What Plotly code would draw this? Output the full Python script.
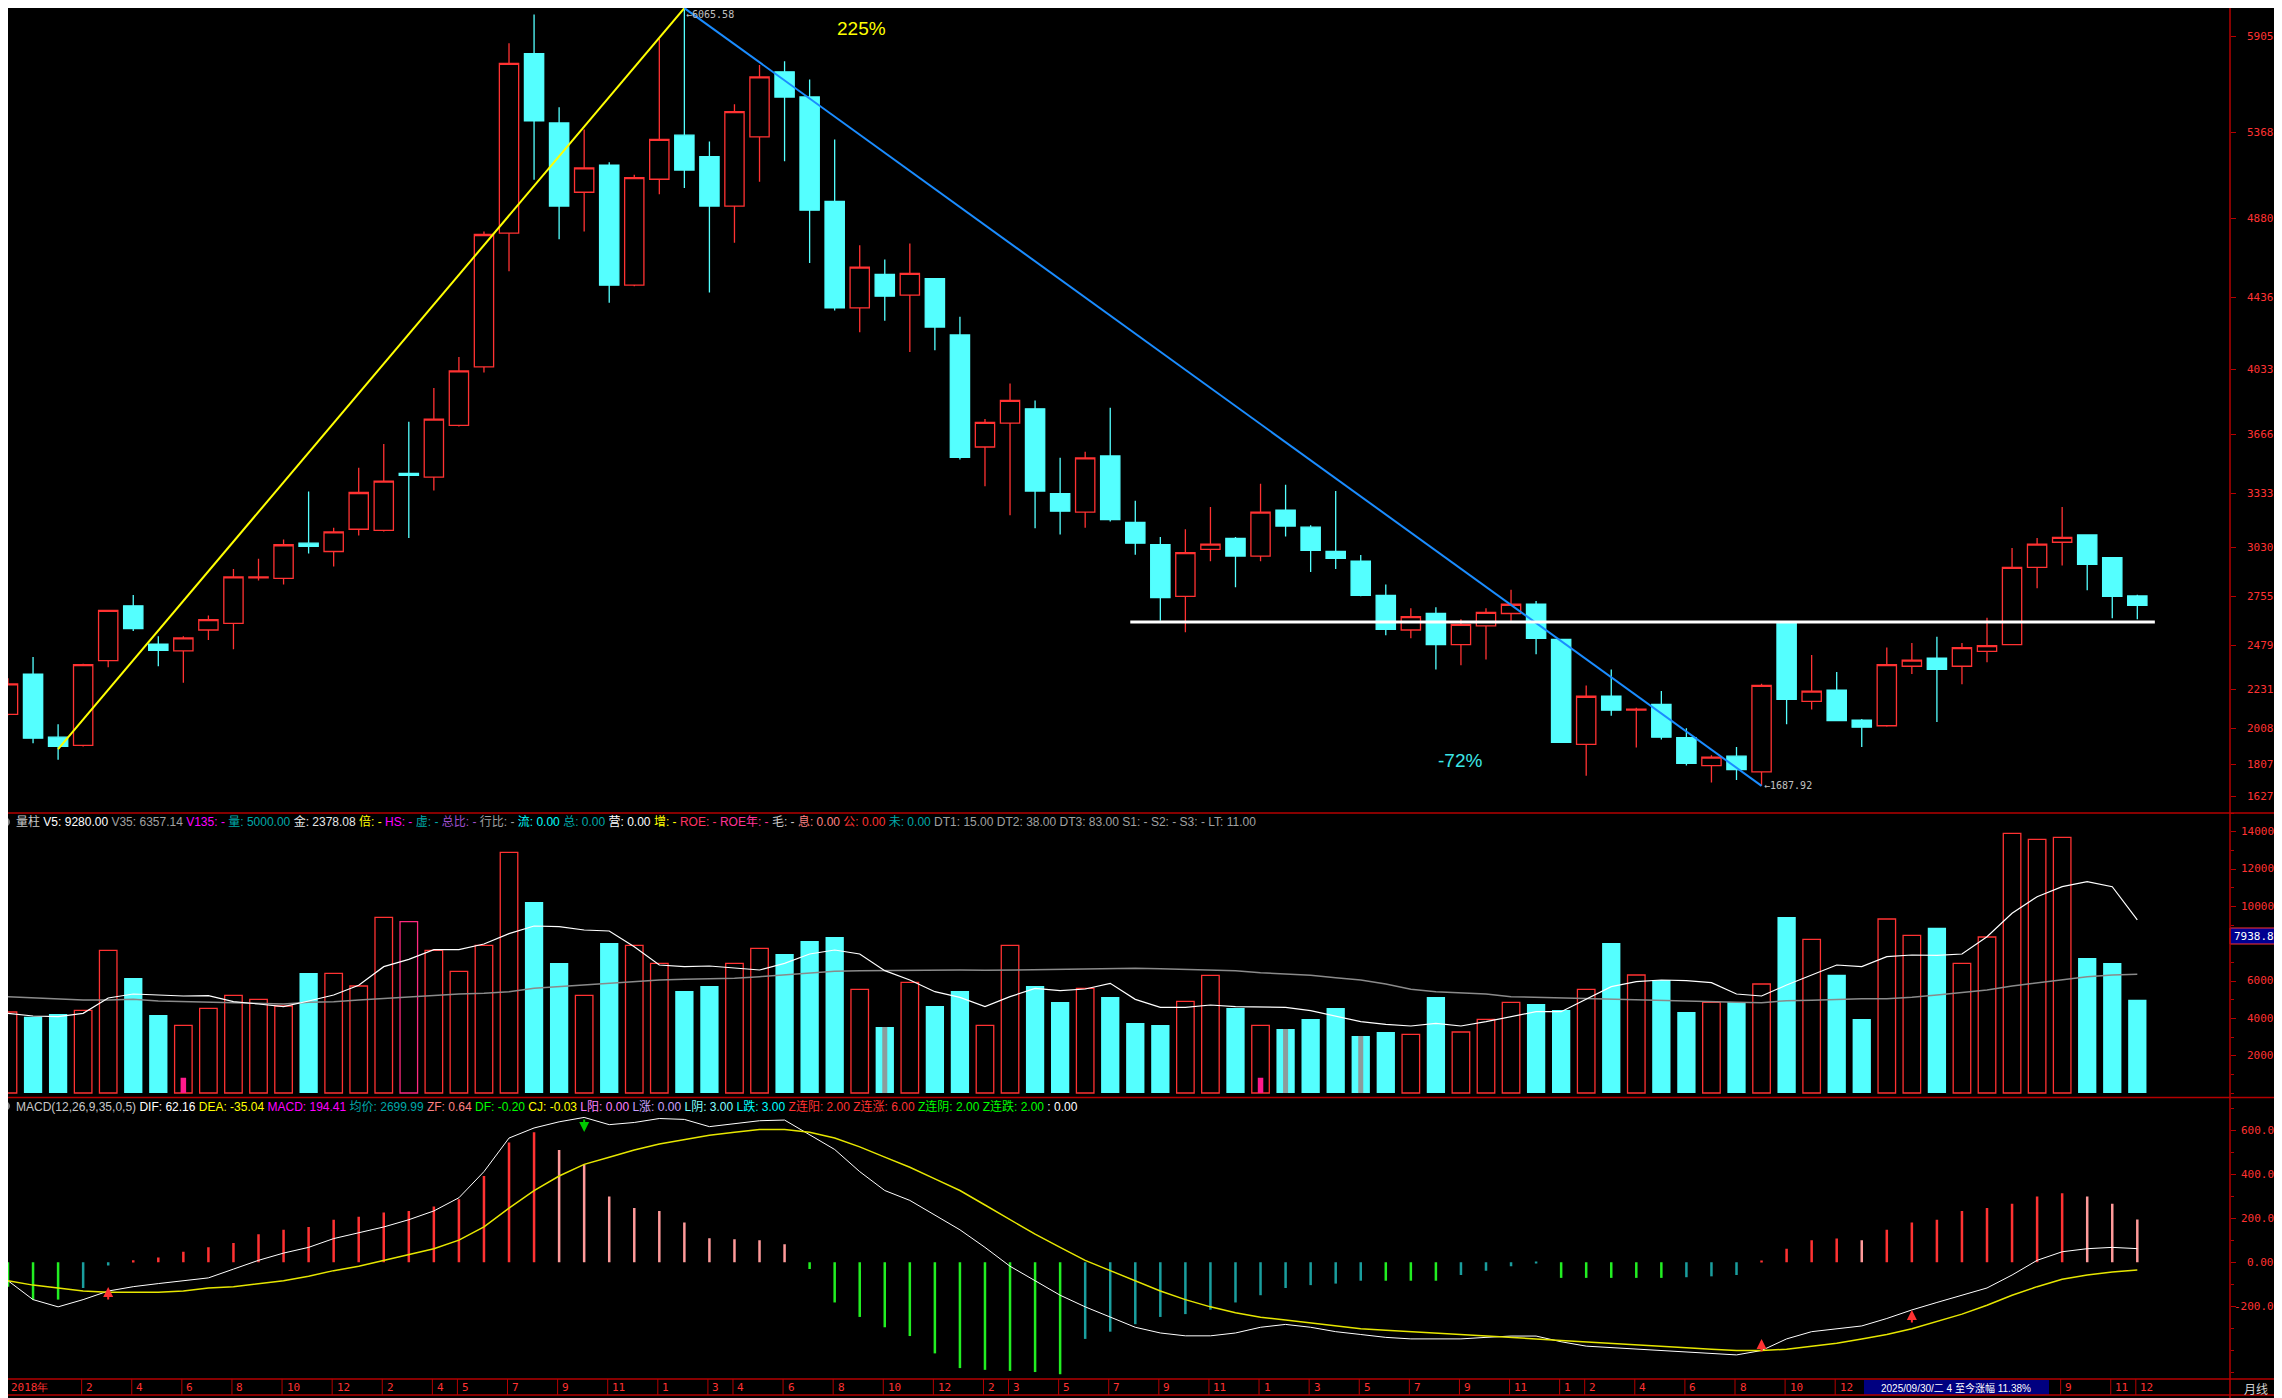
import plotly.graph_objects as go

W, H = 2282, 1398
OFF = 8                     # the page puts the figure 8 px in from the top-left corner
FW, FH = W - OFF, H - OFF

# ---- monthly bars, Nov 2018 .. Dec 2025 (bar index 0..85) ----
opens = [2090, 2317, 1962, 1916, 2393, 2701, 2486, 2448, 2565, 2602,
         2858, 2856, 3054, 3007, 3132, 3126, 3446, 3426, 3717, 4046,
         4799, 5809, 5419, 5029, 5181, 4506, 5102, 5350, 5230, 4951,
         5341, 5707, 5565, 4977, 4378, 4567, 4450, 4543, 4226, 3595,
         3729, 3810, 3333, 3228, 3545, 3170, 3045, 2754, 3019, 3080,
         2981, 3240, 3144, 3007, 2952, 2760, 2565, 2658, 2483, 2588,
         2658, 2710, 2512, 1921, 2192, 2114, 2146, 1959, 1802, 1855,
         1767, 2602, 2163, 2227, 2058, 2026, 2361, 2407, 2361, 2445,
         2483, 2917, 3059, 3100, 2972, 2757]
highs = [2294, 2413, 2035, 2375, 2678, 2762, 2530, 2530, 2646, 2908,
         2966, 3074, 3345, 3141, 3478, 3612, 3737, 3927, 4101, 4808,
         5867, 6030, 5507, 5382, 5198, 5128, 5891, 6065.58, 5315, 5524,
         5745, 5766, 5664, 5326, 4730, 4651, 4741, 4545, 4328, 3752,
         3953, 3857, 3534, 3569, 3816, 3292, 3088, 3132, 3257, 3088,
         3388, 3382, 3155, 3347, 2987, 2821, 2687, 2693, 2626, 2687,
         2792, 2728, 2515, 2253, 2343, 2128, 2221, 2012, 1860, 1907,
         2262, 2605, 2425, 2329, 2064, 2466, 2492, 2527, 2492, 2634,
         3027, 3083, 3257, 3103, 2975, 2763]
lows = [2085, 1927, 1835, 1910, 2355, 2559, 2361, 2268, 2509, 2457,
        2844, 2821, 2995, 2923, 3097, 3120, 3083, 3350, 3710, 4014,
        4584, 5099, 4765, 4808, 4407, 4500, 5018, 5053, 4465, 4744,
        5088, 5204, 4631, 4363, 4241, 4305, 4130, 4139, 3525, 3374,
        3211, 3138, 3103, 3141, 3176, 2989, 2617, 2553, 2952, 2806,
        2952, 3091, 2891, 2908, 2755, 2536, 2518, 2343, 2367, 2399,
        2617, 2428, 1930, 1744, 2082, 1904, 1948, 1802, 1706, 1721,
        1687.92, 2035, 2117, 2052, 1907, 2020, 2317, 2047, 2259, 2384,
        2480, 2800, 2928, 2789, 2631, 2626]
closes = [2262, 1956, 1910, 2370, 2675, 2573, 2451, 2521, 2623, 2864,
          2864, 3045, 3036, 3117, 3339, 3403, 3435, 3752, 4023, 4791,
          5754, 5431, 4951, 5166, 4506, 5111, 5326, 5154, 4951, 5483,
          5678, 5565, 4928, 4378, 4607, 4444, 4572, 4270, 3537, 3734,
          3857, 3347, 3234, 3534, 3187, 3054, 2748, 3001, 3048, 2981,
          3228, 3150, 3013, 2969, 2760, 2568, 2640, 2483, 2597, 2664,
          2710, 2518, 1933, 2192, 2114, 2119, 1962, 1814, 1849, 1779,
          2253, 2175, 2221, 2055, 2018, 2370, 2396, 2343, 2466, 2477,
          2917, 3048, 3086, 2934, 2754, 2704]

volume = [4339, 4089, 4232, 4428, 7643, 6161, 4178, 3625, 4536, 5232,
          5018, 4661, 6428, 6411, 5732, 9410, 9178, 7643, 6518, 7910,
          12892, 10232, 6964, 5232, 8035, 7910, 6946, 5464, 5732, 6946,
          7750, 7446, 8143, 8357, 5553, 3535, 5928, 4661, 5464, 3625,
          7910, 5732, 4875, 5607, 5143, 3750, 3643, 4910, 6303, 4553,
          3625, 3428, 3964, 4553, 3053, 3268, 3143, 5143, 3268, 3946,
          4857, 4768, 4446, 5553, 8035, 6321, 6053, 4339, 4857, 4875,
          5839, 9428, 8232, 6339, 3964, 9321, 8446, 8857, 6946, 8357,
          13910, 13589, 13696, 7232, 6964, 5000]
vol_ma5 = [4268, 4125, 4089, 4268, 5089, 5303, 5250, 5196, 5214, 4893,
           4768, 4625, 4928, 5250, 5768, 6768, 7160, 7678, 7678, 7982,
           8535, 8946, 8910, 8732, 8678, 7839, 6857, 6768, 6803, 6678,
           6589, 6946, 7446, 7660, 7446, 6553, 6053, 5428, 5125, 4625,
           5160, 5607, 5482, 5571, 5875, 5018, 4589, 4589, 4714, 4625,
           4589, 4589, 4410, 4125, 3821, 3678, 3589, 3732, 3589, 3821,
           4089, 4357, 4357, 5018, 5696, 5964, 6053, 6018, 5910, 5303,
           5196, 5785, 6321, 6857, 6768, 7303, 7393, 7375, 7446, 8375,
           9625, 10517, 11053, 11321, 11053, 9280]
vol_ma35 = [5160, 5089, 5035, 4982, 4982, 5018, 4928, 4893, 4857, 4839,
            4803, 4768, 4857, 4893, 4982, 5071, 5160, 5250, 5303, 5339,
            5428, 5607, 5696, 5785, 5875, 5964, 6053, 6089, 6107, 6142,
            6232, 6321, 6410, 6517, 6553, 6571, 6589, 6607, 6589, 6571,
            6589, 6625, 6642, 6678, 6678, 6678, 6660, 6625, 6607, 6553,
            6446, 6375, 6303, 6178, 6053, 5839, 5553, 5428, 5375, 5303,
            5160, 5125, 5071, 5053, 5035, 4982, 4946, 4910, 4875, 4857,
            4839, 4946, 4964, 5018, 5053, 5053, 5125, 5250, 5375, 5518,
            5732, 5910, 6089, 6232, 6321, 6357]
pink_marks = [7, 50]          # small magenta sticks inside volume bars
gray_marks = [35, 51, 54]     # grey stripes inside volume bars
flat_vol = [16]

dif = [-84, -170, -203, -170, -131, -111, -97, -84, -71, -31,
       9, 42, 68, 108, 135, 161, 194, 234, 294, 413,
       566, 612, 640, 660, 627, 637, 655, 651, 618, 632,
       645, 648, 580, 514, 413, 327, 282, 214, 148, 68,
       -18, -84, -150, -203, -249, -296, -322, -335, -335, -322,
       -296, -283, -296, -316, -329, -342, -349, -349, -349, -342,
       -336, -336, -362, -382, -389, -396, -402, -409, -415, -422,
       -402, -349, -316, -303, -290, -256, -217, -183, -150, -117,
       -58, 9, 48, 62, 68, 62.16]
dea = [-84, -104, -117, -131, -137, -137, -137, -131, -117, -111,
       -97, -84, -64, -38, -18, 9, 35, 62, 101, 161,
       247, 327, 393, 446, 479, 512, 539, 559, 579, 592,
       605, 605, 592, 566, 526, 479, 433, 380, 327, 261,
       194, 128, 68, 9, -38, -84, -131, -170, -203, -230,
       -250, -263, -276, -290, -303, -310, -316, -322, -329, -336,
       -342, -349, -356, -362, -369, -375, -382, -389, -396, -402,
       -402, -396, -382, -369, -349, -329, -303, -270, -236, -196,
       -150, -111, -77, -58, -44, -35.04]
macd = [-111, -170, -170, -117, -15, 9, 22, 48, 68, 88,
        128, 148, 161, 194, 207, 227, 234, 254, 287, 393,
        546, 592, 512, 446, 300, 247, 234, 181, 110, 105,
        100, 82, -31, -183, -249, -296, -336, -415, -482, -490,
        -495, -500, -510, -349, -316, -282, -249, -236, -216, -183,
        -150, -117, -104, -97, -84, -84, -84, -84, -58, -38,
        -18, -5, -71, -71, -71, -71, -71, -68, -64, -58,
        5, 62, 101, 108, 101, 148, 181, 194, 234, 247,
        267, 300, 314, 300, 267, 194.41]
buy_marks = [(4, -113), (70, -349), (76, -217)]
sell_marks = [(23, 594)]

price_ticks = [5905, 5368, 4880, 4436, 4033, 3666, 3333, 3030, 2755, 2479, 2231, 2008, 1807, 1627]
vol_ticks = [14000, 12000, 10000, 6000, 4000, 2000]
macd_ticks = [600, 400, 200, 0, -200]
macd_tick_text = ["600.0", "400.0", "200.0", "0.00", "-200.0"]

label_pos = [0, 3, 5, 7, 9, 11, 13, 15, 17, 18, 20, 22, 24, 26, 28, 29, 31, 33, 35, 37, 39,
             40, 42, 44, 46, 48, 50, 52, 54, 56, 58, 60, 62, 63, 65, 67, 69, 71, 73, 82, 84, 85]
label_txt = ["2018年", "2", "4", "6", "8", "10", "12", "2", "4", "5", "7", "9", "11", "1", "3", "4",
             "6", "8", "10", "12", "2", "3", "5", "7", "9", "11", "1", "3", "5", "7", "9", "11",
             "1", "2", "4", "6", "8", "10", "12", "9", "11", "12"]

peak_bar, peak_val = 27, 6065.58
low_bar, low_val = 70, 1687.92
rise_start = (2, 1895)
support_level = 2610

RED = "#ff3232"
CYAN = "#54ffff"
FRAME = "#b40000"
x = list(range(len(opens)))


def px(X):
    return (X - OFF) / FW


def py(Y):
    return 1 - (Y - OFF) / FH


fig = go.Figure()

fig.add_trace(go.Candlestick(
    x=x, open=opens, high=highs, low=lows, close=closes, yaxis="y",
    increasing=dict(line=dict(color=RED, width=1.3), fillcolor="#000000"),
    decreasing=dict(line=dict(color=CYAN, width=1.3), fillcolor=CYAN),
    whiskerwidth=0, hoverinfo="skip"))

# trend lines
fig.add_trace(go.Scatter(x=[rise_start[0], peak_bar], y=[rise_start[1], peak_val], mode="lines",
                         line=dict(color="#ffff00", width=2), yaxis="y", cliponaxis=False))
fig.add_trace(go.Scatter(x=[peak_bar, low_bar], y=[peak_val, low_val], mode="lines",
                         line=dict(color="#1a8cff", width=2), yaxis="y", cliponaxis=False))
fig.add_trace(go.Scatter(x=[44.8, 85.7], y=[support_level, support_level], mode="lines",
                         line=dict(color="#ffffff", width=3), yaxis="y"))

# volume
up = [c >= o for o, c in zip(opens, closes)]
for i in flat_vol:
    up[i] = True
vx_up = [i for i in x if up[i]]
vx_dn = [i for i in x if not up[i]]
fig.add_trace(go.Bar(x=vx_dn, y=[volume[i] for i in vx_dn], width=0.73, yaxis="y2",
                     marker=dict(color=CYAN, line=dict(width=0))))
fig.add_trace(go.Bar(x=vx_up, y=[volume[i] for i in vx_up], width=0.7, yaxis="y2",
                     marker=dict(color="#000000",
                                 line=dict(color=["#ff2a7f" if i in flat_vol else RED for i in vx_up], width=1.3))))
fig.add_trace(go.Bar(x=gray_marks, y=[volume[i] for i in gray_marks], width=0.2, yaxis="y2",
                     marker=dict(color="#8c9c9c", line=dict(width=0))))
fig.add_trace(go.Bar(x=pink_marks, y=[821 for i in pink_marks], width=0.22, yaxis="y2",
                     marker=dict(color="#ff1a8c", line=dict(width=0))))
fig.add_trace(go.Scatter(x=x, y=vol_ma35, mode="lines", line=dict(color="#8a8a8a", width=1.5), yaxis="y2"))
fig.add_trace(go.Scatter(x=x, y=vol_ma5, mode="lines", line=dict(color="#ffffff", width=1.2), yaxis="y2"))

# macd
hist_colors = []
for i, v in enumerate(macd):
    p = macd[i - 1] if i else v
    if v >= 0:
        hist_colors.append(RED if v >= p else "#ff9a9a")
    else:
        hist_colors.append("#22ee22" if v <= p else "#1a9e9e")
fig.add_trace(go.Bar(x=x, y=macd, width=0.1, yaxis="y3", marker=dict(color=hist_colors, line=dict(width=0))))
fig.add_trace(go.Scatter(x=x, y=dif, mode="lines", line=dict(color="#ffffff", width=1), yaxis="y3"))
fig.add_trace(go.Scatter(x=x, y=dea, mode="lines", line=dict(color="#e6e600", width=1.5), yaxis="y3"))

annotations = []
shapes = []


def note(X, Y, text, font, xanchor="center", **kw):
    annotations.append(dict(x=px(X), y=py(Y), xref="paper", yref="paper", text=text, showarrow=False,
                            xanchor=xanchor, yanchor="middle", font=font, **kw))


# right scale labels
mono = "DejaVu Sans Mono"
tfont = dict(family=mono, size=11, color=RED)
for ref, vals, texts in (("y", price_ticks, [str(v) for v in price_ticks]),
                         ("y2", vol_ticks, [str(v) for v in vol_ticks]),
                         ("y3", macd_ticks, macd_tick_text)):
    for v, t in zip(vals, texts):
        annotations.append(dict(x=px(2276), xref="paper", y=v, yref=ref, text=t, showarrow=False,
                                xanchor="right", yanchor="middle", font=tfont))

# chart texts
note(861, 28, "225%", dict(family="Liberation Sans", size=19, color="#ffff00"))
note(1460, 760, "-72%", dict(family="Liberation Sans", size=19, color="#3ce6e6"))
annotations.append(dict(x=peak_bar, y=peak_val, xref="x", yref="y", text="←" + str(peak_val), showarrow=False,
                        xanchor="left", yanchor="middle", yshift=-6, font=dict(family=mono, size=10, color="#c0c0c0")))
annotations.append(dict(x=low_bar, y=low_val, xref="x", yref="y", text="←" + str(low_val), showarrow=False,
                        xanchor="left", yanchor="middle", font=dict(family=mono, size=10, color="#c0c0c0")))


def seg(t, c):
    return '<span style="color:%s">%s</span>' % (c, t)


vol_items = [("量柱", "#c8c8c8"), ("V5: 9280.00", "#ffffff"), ("V35: 6357.14", "#a0a0a0"),
             ("V135: -", "#ff00ff"), ("量: 5000.00", "#00a8a8"), ("金: 2378.08", "#e6e6e6"),
             ("倍: -", "#ffff00"), ("HS: -", "#ff00ff"), ("虚: -", "#00a8a8"), ("总比: -", "#a050d0"),
             ("行比: -", "#a0a0a0"), ("流: 0.00", "#00ffff"), ("总: 0.00", "#00a8a8"), ("营: 0.00", "#ffffff"),
             ("增: -", "#ffff00"), ("ROE: -", "#ff3264"), ("ROE年: -", "#ff3296"), ("毛: -", "#c8c8c8"),
             ("息: 0.00", "#ff8080"), ("公: 0.00", "#ff3232"), ("未: 0.00", "#00a8a8"),
             ("DT1: 15.00", "#a0a0a0"), ("DT2: 38.00", "#a0a0a0"), ("DT3: 83.00", "#a0a0a0"),
             ("S1: -", "#a0a0a0"), ("S2: -", "#a0a0a0"), ("S3: -", "#a0a0a0"), ("LT: 11.00", "#a0a0a0")]
macd_items = [("MACD(12,26,9,35,0,5)", "#c8c8c8"), ("DIF: 62.16", "#ffffff"), ("DEA: -35.04", "#ffff00"),
              ("MACD: 194.41", "#ff00ff"), ("均价: 2699.99", "#00a8a8"), ("ZF: 0.64", "#ff8080"),
              ("DF: -0.20", "#00ff00"), ("CJ: -0.03", "#ffff00"), ("L阳: 0.00", "#ff80ff"),
              ("L涨: 0.00", "#c8a0ff"), ("L阴: 3.00", "#80ffff"), ("L跌: 3.00", "#00ffff"),
              ("Z连阳: 2.00", "#ff3232"), ("Z连涨: 6.00", "#ff3232"), ("Z连阴: 2.00", "#00ff00"),
              ("Z连跌: 2.00", "#00ff00"), (": 0.00", "#ffffff")]
hfont = dict(family="Liberation Sans, Noto Sans CJK SC", size=12)
note(14, 822, " ".join(seg(t, c) for t, c in vol_items), hfont, xanchor="left")
note(14, 1106, " ".join(seg(t, c) for t, c in macd_items), hfont, xanchor="left")
for yy in (822, 1106):
    shapes.append(dict(type="circle", xref="paper", yref="paper", x0=px(1), x1=px(10),
                       y0=py(yy + 4.5), y1=py(yy - 4.5), fillcolor="#808080", line=dict(width=0)))

# bottom time strip
for p, t in zip(label_pos, label_txt):
    annotations.append(dict(x=p, xref="x", y=py(1387.5), yref="paper", text=t, showarrow=False,
                            xanchor="left", yanchor="middle", xshift=1, font=dict(family=mono, size=11, color=RED)))
    shapes.append(dict(type="line", xref="x", yref="paper", x0=p - 0.06, x1=p - 0.06,
                       y0=py(1379), y1=py(1395), line=dict(color=FRAME, width=1)))
shapes.append(dict(type="rect", xref="paper", yref="paper", x0=px(1864), x1=px(2049), y0=py(1395), y1=py(1380),
                   fillcolor="#000080", line=dict(width=0)))
note(1956, 1387.5, "2025/09/30/二 4 至今涨幅 11.38%",
     dict(family="Liberation Sans, Noto Sans CJK SC", size=10, color="#ffffff"))
note(2256, 1388, "月线", dict(family="Noto Sans CJK SC", size=12, color="#d0d0d0"))

# current volume box
shapes.append(dict(type="rect", xref="paper", yref="paper", x0=px(2230), x1=1, y0=py(944), y1=py(928),
                   fillcolor="#000090", line=dict(color=RED, width=1)))
note(2232, 936, "7938.8", dict(family=mono, size=11, color="#ffffff"), xanchor="left")

# signal arrows in macd pane
for b, v in sell_marks:
    annotations.append(dict(x=b, y=v, xref="x", yref="y3", text="", showarrow=True, ax=0, ay=-14,
                            arrowhead=2, arrowsize=1, arrowwidth=2, arrowcolor="#00c800"))
for b, v in buy_marks:
    annotations.append(dict(x=b, y=v, xref="x", yref="y3", text="", showarrow=True, ax=0, ay=14,
                            arrowhead=2, arrowsize=1, arrowwidth=2, arrowcolor=RED))

# frame lines
for yy in (813, 1097.5, 1379, 1395):
    shapes.append(dict(type="line", xref="paper", yref="paper", x0=0, x1=1, y0=py(yy), y1=py(yy),
                       line=dict(color=FRAME, width=1.5)))
shapes.append(dict(type="line", xref="paper", yref="paper", x0=px(2230), x1=px(2230), y0=0, y1=1,
                   line=dict(color=FRAME, width=1.5)))
shapes.append(dict(type="line", xref="paper", yref="paper", x0=px(2281), x1=px(2281), y0=0, y1=py(1097.5),
                   line=dict(color=FRAME, width=1.5)))

axis_common = dict(showgrid=False, zeroline=False, showline=False, side="right", anchor="x",
                   ticks="outside", ticklen=5, tickcolor=FRAME, showticklabels=False, fixedrange=True)

fig.update_layout(
    width=FW, height=FH, margin=dict(l=0, r=0, t=0, b=0),
    paper_bgcolor="#000000", plot_bgcolor="#000000", showlegend=False,
    barmode="overlay", boxgap=0.23, boxgroupgap=0, hovermode=False,
    xaxis=dict(domain=[0, px(2230)], range=[0, 88.70], visible=False, rangeslider=dict(visible=False),
               fixedrange=True),
    yaxis=dict(domain=[py(813), 1], range=[1535, 6066], tickvals=price_ticks, **axis_common),
    yaxis2=dict(domain=[py(1097.5), py(813)], range=[-241, 15000], tickvals=vol_ticks + [8000],
                minor=dict(ticks="outside", ticklen=3, tickcolor=FRAME, tickmode="linear", tick0=0, dtick=1000),
                **axis_common),
    yaxis3=dict(domain=[py(1379), py(1097.5)], range=[-531.7, 750.8], tickvals=macd_ticks,
                minor=dict(ticks="outside", ticklen=3, tickcolor=FRAME, tickmode="linear", tick0=0, dtick=100),
                **axis_common),
    annotations=annotations, shapes=shapes,
)

fig.write_html("out.html")
